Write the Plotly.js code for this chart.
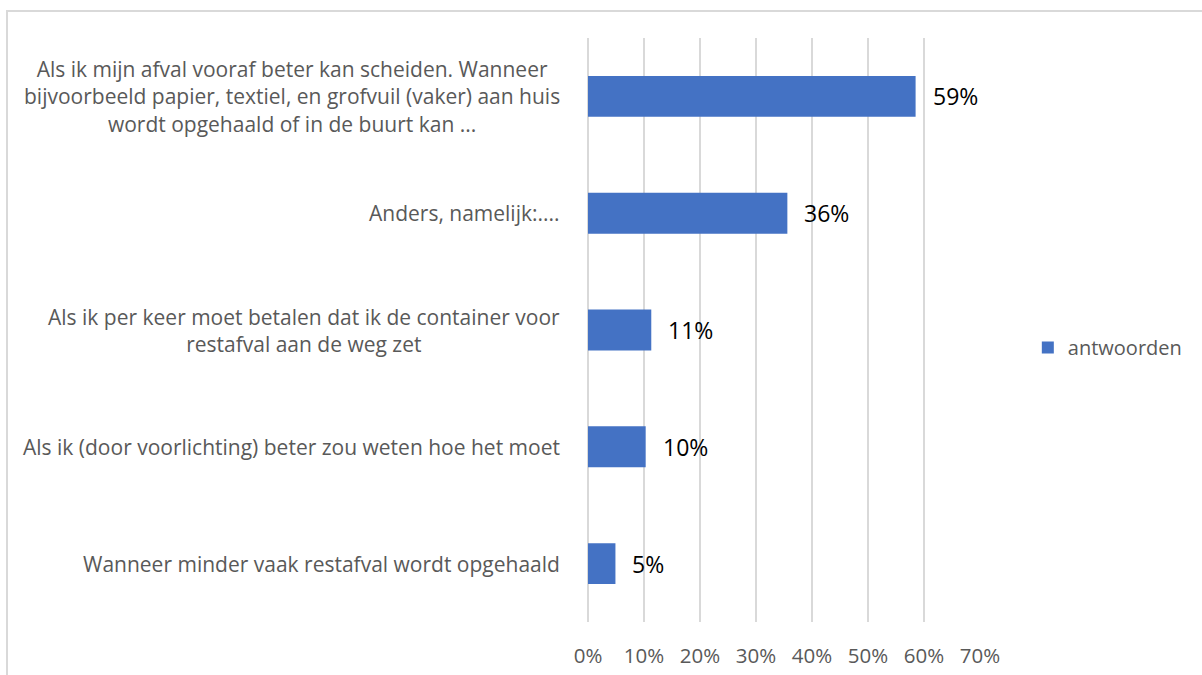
<!DOCTYPE html>
<html>
<head>
<meta charset="utf-8">
<script src="https://cdn.plot.ly/plotly-3.0.1.min.js"></script>
<style>
  html, body { margin: 0; padding: 0; background: #fff; }
  #wrap { position: relative; width: 1202px; height: 675px; overflow: hidden; }
  #chart { position: absolute; left: 0; top: 0; width: 1202px; height: 675px; }
  #frame { position: absolute; left: 6px; top: 10px; width: 1300px; height: 800px;
           border-top: 2px solid #d9d9d9; border-left: 2px solid #d9d9d9; pointer-events: none; }
</style>
</head>
<body>
<div id="wrap">
  <div id="chart"></div>
  <div id="frame"></div>
</div>
<script>
// Categories (top to bottom)
const categories = [
  "Als ik mijn afval vooraf beter kan scheiden. Wanneer<br>bijvoorbeeld papier, textiel, en grofvuil (vaker) aan huis<br>wordt opgehaald of in de buurt kan ...",
  "Anders, namelijk:....",
  "Als ik per keer moet betalen dat ik de container voor<br>restafval aan de weg zet",
  "Als ik (door voorlichting) beter zou weten hoe het moet",
  "Wanneer minder vaak restafval wordt opgehaald"
];
const categoryIds = ["c1", "c2", "c3", "c4", "c5"];
// Series values (percent)
const antwoorden = [58.5, 35.6, 11.3, 10.3, 4.9];
// Data labels as shown
const dataLabels = ["59%", "36%", "11%", "10%", "5%"];
const seriesName = "antwoorden";
// X tick values
const xTicks = [0, 10, 20, 30, 40, 50, 60, 70];
const xTickLabels = ["0%", "10%", "20%", "30%", "40%", "50%", "60%", "70%"];

const trace = {
  type: "bar",
  orientation: "h",
  name: seriesName,
  x: antwoorden,
  y: categoryIds,
  width: 0.35,
  marker: { color: "#4472C4" },
  hoverinfo: "x+name",
  showlegend: true
};

const annotations = [];
categories.forEach((c, i) => {
  annotations.push({
    xref: "paper", yref: "y", x: 0, y: categoryIds[i],
    xanchor: "right", yanchor: "middle", xshift: -26,
    align: "center", showarrow: false, text: c,
    font: { family: "Open Sans, sans-serif", size: 21, color: "#595959" }
  });
  annotations.push({
    xref: "x", yref: "y", x: antwoorden[i], y: categoryIds[i],
    xanchor: "left", yanchor: "middle", xshift: 15,
    showarrow: false, text: dataLabels[i],
    font: { family: "Open Sans, sans-serif", size: 23, color: "#000000" }
  });
});

const layout = {
  width: 1202, height: 675,
  margin: { l: 588, r: 222, t: 38, b: 53, pad: 0 },
  paper_bgcolor: "rgba(0,0,0,0)",
  plot_bgcolor: "rgba(0,0,0,0)",
  showlegend: true,
  legend: {
    x: 1.122, xanchor: "left", y: 0.47, yanchor: "middle",
    font: { family: "Open Sans, sans-serif", size: 20, color: "#595959" },
    itemwidth: 30
  },
  xaxis: {
    range: [0, 70],
    tickvals: xTicks, ticktext: xTickLabels,
    showgrid: true, gridcolor: "#d9d9d9", gridwidth: 2,
    zeroline: true, zerolinecolor: "#d9d9d9", zerolinewidth: 2,
    showline: false, ticks: "",
    ticklabelstandoff: 19,
    tickfont: { family: "Open Sans, sans-serif", size: 20.5, color: "#595959" },
    fixedrange: true
  },
  yaxis: {
    type: "category",
    categoryorder: "array", categoryarray: categoryIds,
    autorange: "reversed",
    showticklabels: false, showgrid: false, zeroline: false, ticks: "",
    fixedrange: true
  },
  annotations: annotations,
  bargap: 0.65
};

Plotly.newPlot("chart", [trace], layout, { displayModeBar: false, staticPlot: true });
</script>
</body>
</html>
